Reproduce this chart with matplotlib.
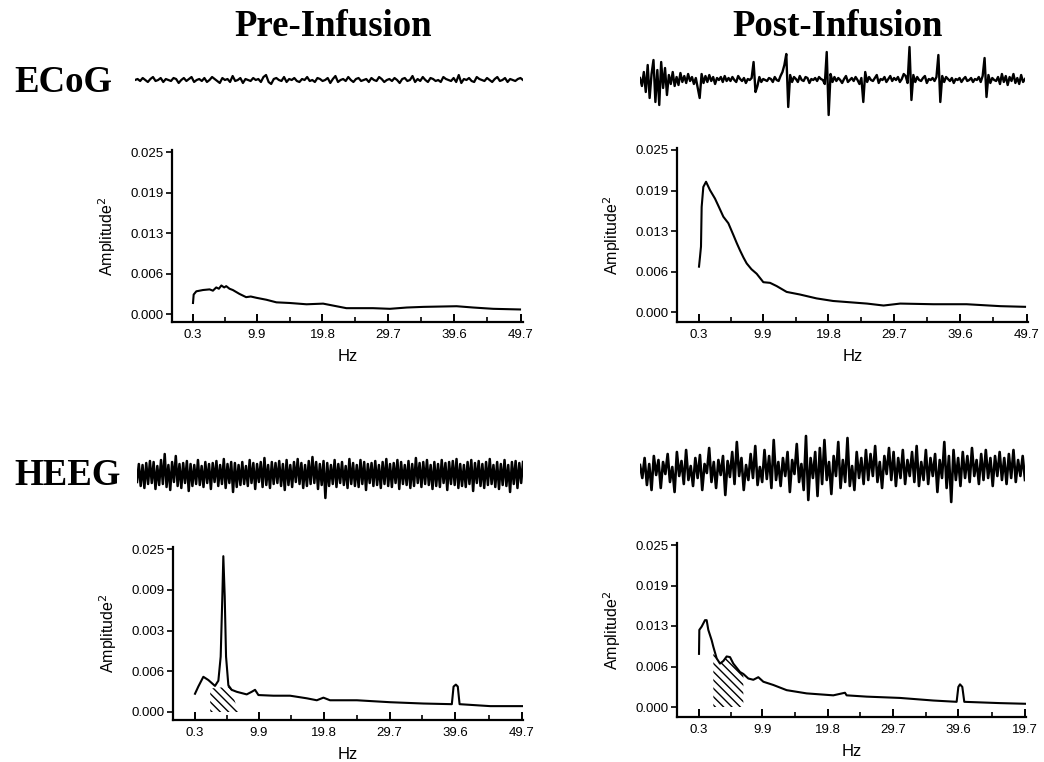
import matplotlib
matplotlib.use("Agg")
import matplotlib.pyplot as plt
import numpy as np

plt.rcParams['font.family'] = ['Liberation Sans', 'DejaVu Sans']
plt.rcParams['hatch.linewidth'] = 1.0

# ---- data ----
col_titles = ['Pre-Infusion', 'Post-Infusion']
row_titles = ['ECoG', 'HEEG']

yticks = [0.0, 0.00625, 0.0125, 0.01875, 0.025]
ytick_labels = ['0.000', '0.006', '0.013', '0.019', '0.025']
ytick_labels_heeg_pre = ['0.000', '0.006', '0.003', '0.009', '0.025']
xticks = [0.3, 9.9, 19.8, 29.7, 39.6, 49.7]
xtick_labels = ['0.3', '9.9', '19.8', '29.7', '39.6', '49.7']
xtick_labels_heeg_post = ['0.3', '9.9', '19.8', '29.7', '39.6', '19.7']

# spectra (Hz, amplitude^2)
ecog_pre_f = [0.3, 0.4, 0.8, 1.8, 2.8, 3.3, 3.8, 4.2, 4.57, 5.0, 5.3, 5.8, 6.3, 7.3, 8.3, 9.0, 9.85,
              11.35, 12.86, 14.87, 17.4, 19.9, 21.9, 23.4, 27.4, 29.95, 32.5, 35.0, 40.0, 42.5, 45.5, 49.55]
ecog_pre_a = [0.0017, 0.0030, 0.0035, 0.0037, 0.0038, 0.0036, 0.0041, 0.0039, 0.0044, 0.0041, 0.0043, 0.0039,
              0.0037, 0.0031, 0.0026, 0.0027, 0.0025, 0.0022, 0.0018, 0.0017, 0.0015, 0.0016, 0.0012, 0.0009,
              0.0009, 0.0008, 0.0010, 0.0011, 0.0012, 0.0010, 0.0008, 0.0007]

ecog_post_f = [0.3, 0.45, 0.6, 0.7, 0.95, 1.36, 1.96, 2.71, 3.3, 3.97, 4.72, 5.47, 6.0, 6.48, 7.0, 7.48, 8.2,
               8.99, 9.99, 11.0, 12.0, 13.5, 15.5, 18.0, 20.5, 25.6, 28.1, 30.6, 35.6, 40.6, 45.7, 49.4]
ecog_post_a = [0.0070, 0.0085, 0.0101, 0.0162, 0.0193, 0.0201, 0.0188, 0.0175, 0.0162, 0.0147, 0.0137, 0.0119,
               0.0106, 0.0095, 0.0084, 0.0075, 0.0066, 0.0059, 0.0046, 0.0045, 0.0040, 0.0031, 0.0027, 0.0021,
               0.0017, 0.0013, 0.0010, 0.0013, 0.0012, 0.0012, 0.0009, 0.0008]

heeg_pre_f = [0.3, 0.8, 1.56, 2.32, 3.32, 3.83, 4.18, 4.43, 4.58, 4.79, 4.99, 5.34, 5.84, 6.6, 8.11, 8.87,
              9.37, 9.88, 12.14, 14.66, 17.19, 18.7, 19.7, 20.7, 24.75, 29.79, 34.8, 39.1, 39.36, 39.71,
              40.0, 40.27, 44.9, 49.7]
heeg_pre_a = [0.0028, 0.0039, 0.0054, 0.0049, 0.0040, 0.0048, 0.0085, 0.0177, 0.0239, 0.0177, 0.0085, 0.0041,
              0.0034, 0.0031, 0.0027, 0.0031, 0.0034, 0.0026, 0.0025, 0.0025, 0.0021, 0.0018, 0.0022, 0.0018,
              0.0018, 0.0015, 0.0013, 0.0012, 0.0039, 0.0042, 0.0039, 0.0012, 0.0009, 0.0009]
heeg_pre_hatch_f = [2.6, 5.6, 6.85]
heeg_pre_hatch_top = [0.0036, 0.0039, 0.0]

heeg_post_f = [0.30, 0.35, 0.70, 1.21, 1.46, 1.71, 2.22, 2.47, 2.98, 3.48, 3.99, 4.49, 5.0, 5.5, 6.51, 7.02,
               7.77, 8.53, 9.29, 10.05, 11.56, 13.58, 16.61, 20.65, 22.42, 22.67, 25.7, 30.75, 35.8, 39.34,
               39.6, 39.85, 40.2, 40.5, 45.9, 49.7]
heeg_post_a = [0.0082, 0.0119, 0.0124, 0.0134, 0.0134, 0.0119, 0.0103, 0.0093, 0.0075, 0.0067, 0.0071, 0.0078,
               0.0077, 0.0067, 0.0054, 0.0051, 0.0044, 0.0042, 0.0046, 0.0039, 0.0034, 0.0026, 0.0021, 0.0018,
               0.0022, 0.0018, 0.0016, 0.0014, 0.0010, 0.0008, 0.0031, 0.0035, 0.0031, 0.0008, 0.0006, 0.0005]
heeg_post_hatch = (2.47, 7.02)

# raw traces (arbitrary units, roughly pixels of deflection)
ecog_pre_trace = [0, 1, -1, 2, 0, -2, 1, 3, -1, 0, 2, -2, 1, 0, -1, 2, 1, -3, 0, 2, -1, 1, 3, -2, 0, 1, -1, 2,
                  -2, 0, 3, 1, -1, -3, 2, 0, 1, -2, 4, -1, 0, 2, -3, 1, 0, -1, 2, 0, 1, -2, 3, 5, -2, -4, 1, 2,
                  0, -1, 3, -2, 1, 0, 2, -1, -2, 1, 0, 3, -1, 0, -2, 2, 1, -1, 0, 2, -3, 1, 4, -2, 0, 1, -1, 3,
                  0, -2, 1, 2, -1, 0, 1, -2, 2, 0, -1, 3, 1, -2, 0, 1, -1, 2, 0, -3, 1, 2, -1, 0, 4, -2, 1, -1,
                  3, 0, -2, 2, 1, -1, 0, -2, 3, 1, 0, -1, 2, -2, 5, -3, 1, 0, 2, -1, -2, 3, 1, 0, -1, 2, 0, -2,
                  1, 3, -1, 0, 2, -2, 1, 0, -1, 1, 2, 0]
ecog_post_trace = [2, -6, 8, -12, 15, -18, 6, 20, -22, 10, -25, 18, -8, 12, -15, 5,
                   -4, 8, -6, 3, -5, 7, -2, 4, -3, 6, -1, 3, -4, 2, -8,
                   -18, 6, -3, 4, -2, 5, -1, 3, -4, 2, 0, 3, -2, 4, -1,
                   2, -1, 3, 0, -2, 4, 1, -1, 2, -3, 1, 0, 2, 18, -12,
                   -6, 3, -2, 1, 0, -1, 2, 1, -2, 3, 0, -1, 4, 8, 15,
                   26, -27, 5, -2, 3,
                   1, -2, 4, 0, -1, 3, 2, -3, 1, 0, 2, -1, 3, 1, 0,
                   -4, 28, -35, 6, -2,
                   3, -1, 2, 0, -3, 1, 4, -2, 0, 2, -1, 3, 0, -4, 2,
                   -22, 8, -2, 3, 0, -1, 2, 5, -3, 1,
                   0, 3, -2, 1, 4, -1, 2, 0, 3, -2, 1, 6, 4, -3, 33,
                   -20, 5, -2, 3, 0, -1, 2, 4, -3, 1,
                   0, 2, -1, 3, 25, -22, 4, -2, 3, 1,
                   -1, 2, -3, 1, 0, 2, -2, 1, 3, -1, 0, 2, -2, 1, 0,
                   3, -2, 4, 22, -17, 5, -3, 2, 0, -1,
                   3, -4, 6, -2, 4, -5, 3, -1, 6, -3, 2, -4, 5, -2, 1]
heeg_pre_trace = [-8, 10, -12, 9, -14, 11, -10, 13, -9, 12, -15, 8, -11, 14, -10, 20, -13, 9, -16, 12, -8, 18,
                  -12, 10, -14, 11, -9, 13, -17, 10, -12, 9, -10, 14, -11, 8, -13, 12, -9, 10, -15, 11, -8, 13,
                  -12, 9, -10, 15, -14, 10, -9, 12, -18, 11, -13, 9, -11, 12, -10, 8, -12, 14, -9, 11, -15, 10,
                  -8, 12, -13, 16, -11, 9, -14, 12, -10, 11, -9, 13, -12, 10, -16, 14, -11, 9, -13, 12, -8, 15,
                  -10, 11, -14, 9, -12, 13, -10, 17, -9, 12, -15, 10, -11, 13, -24, 11, -12, 9, -10, 14, -13, 10,
                  -9, 12, -11, 8, -14, 15, -10, 11, -12, 9, -13, 14, -10, 12, -16, 10, -9, 11, -12, 13, -11, 9,
                  -14, 12, -10, 15, -12, 10, -13, 11, -9, 14, -15, 12, -10, 9, -11, 13, -14, 10, -12, 16, -9, 11,
                  -13, 12, -10, 14, -11, 9, -15, 12, -12, 10, -13, 14, -9, 11, -16, 12, -10, 13, -11, 15, -14, 10,
                  -12, 9, -13, 12, -10, 14, -17, 11, -9, 13, -12, 10, -14, 12, -11, 15, -10, 9, -13, 12, -15, 10,
                  -11, 14, -12, 9, -18, 12, -10, 13, -14, 11, -9, 12]
heeg_post_trace = [5, -8, 12, -15, 6, -20, 14, -5, 10, -18, 8, -4, 16, -12, 3, -22, 18, -6, 9, -14, 20, -10, 4,
                   -16, 12, -8, 15, -20, 6, -3, 22, -12, 8, -18, 10, -5, 14, -25, 9, -7, 18, -14, 28, -6, 12, -20,
                   5, -10, 16, -8, 24, -15, 3, -12, 20, -9, 14, -18, 30, -10,
                   8, -16, 12, -6, 18, -22, 10, -4, 26, -12, 6, -20, 34, -30, 12, -8, 18, -26, 22, -14, 30, -10,
                   8, -24, 14, -6, 28, -18, 10, -12, 32, -16, 4, -20, 18, -8, 12, -14, 20, -10, 16, -6, 24, -12,
                   8, -18, 14, -4, 22, -10, 18, -16, 12, -8, 20, -14, 10, -6, 18, -12,
                   24, -16, 8, -10, 20, -14, 12, -6, 16, -22, 10, -8, 28, -18, 14, -32, 20, -10, 12, -16, 18, -8,
                   14, -12, 22, -6, 10, -14, 16, -10, 20, -8, 12, -16, 14, -6, 18, -10, 12, -14, 16, -8, 20, -12,
                   10, -6, 14, -10]

W, H = 1044, 762
fig = plt.figure(figsize=(W / 100, H / 100), dpi=100)


def px_axes(x0, y0, x1, y1):
    # pixel box (top-left origin) -> figure axes
    return fig.add_axes([x0 / W, 1 - y1 / H, (x1 - x0) / W, (y1 - y0) / H])


def trace(x0, x1, yc, half, vals, lw):
    ax = px_axes(x0, yc - half, x1, yc + half)
    ax.plot(np.linspace(0, 1, len(vals)), vals, color='black', lw=lw)
    ax.set_xlim(0, 1)
    ax.set_ylim(-half, half)
    ax.axis('off')


def spectrum(spine_x, x03, x497, right_x, y0, y25, xaxis_y, top_y, f, a, ylabels, xlabels):
    ax = px_axes(spine_x, top_y, right_x, xaxis_y)
    hz_per_px = 49.4 / (x497 - x03)
    val_per_px = 0.025 / (y0 - y25)
    ax.set_xlim(0.3 - (x03 - spine_x) * hz_per_px, 49.7 + (right_x - x497) * hz_per_px)
    ax.set_ylim(-(xaxis_y - y0) * val_per_px, 0.025 + (y25 - top_y) * val_per_px)
    ax.plot(f, a, color='black', lw=1.5)
    for s in ['top', 'right']:
        ax.spines[s].set_visible(False)
    for s in ['left', 'bottom']:
        ax.spines[s].set_linewidth(1.6)
    ax.set_yticks(yticks)
    ax.set_yticklabels(ylabels)
    ax.set_xticks(xticks)
    ax.set_xticklabels(xlabels)
    ax.set_xticks([5.1, 14.85, 24.75, 34.65, 44.65], minor=True)
    ax.tick_params(axis='y', direction='out', length=4, width=1.2, pad=2, labelsize=9.5)
    ax.tick_params(axis='x', which='major', direction='in', length=6, width=1.4, pad=5, labelsize=9.5)
    ax.tick_params(axis='x', which='minor', direction='in', length=3.5, width=1.2)
    ax.set_xlabel('Hz', fontsize=12, labelpad=6)
    ax.set_ylabel('Amplitude$^2$', fontsize=11.5, labelpad=9)
    return ax


serif = dict(family='Liberation Serif', fontweight='bold', fontsize=26.5)
fig.text(333 / W, 1 - 27 / H, col_titles[0], ha='center', va='center', **serif)
fig.text(838 / W, 1 - 27 / H, col_titles[1], ha='center', va='center', **serif)
fig.text(14 / W, 1 - 82 / H, row_titles[0], ha='left', va='center', **serif)
fig.text(14 / W, 1 - 475 / H, row_titles[1], ha='left', va='center', **serif)

trace(135, 523, 80, 35, ecog_pre_trace, 1.6)
trace(640, 1025, 80, 40, ecog_post_trace, 1.7)
trace(137, 523, 474, 40, heeg_pre_trace, 1.8)
trace(640, 1025, 470, 48, heeg_post_trace, 1.9)

spectrum(172, 193, 521, 523, 314, 152, 322, 150, ecog_pre_f, ecog_pre_a, ytick_labels, xtick_labels)
spectrum(677, 699, 1027, 1028, 312, 150, 322, 148, ecog_post_f, ecog_post_a, ytick_labels, xtick_labels)

ax = spectrum(173, 195, 522, 523, 712, 549, 720, 547, heeg_pre_f, heeg_pre_a, ytick_labels_heeg_pre,
              xtick_labels)
ax.fill_between(heeg_pre_hatch_f, 0, heeg_pre_hatch_top, facecolor='none', edgecolor='black',
                hatch='\\\\\\\\', linewidth=0)

ax = spectrum(677, 699, 1025, 1026, 707, 545, 717, 543, heeg_post_f, heeg_post_a, ytick_labels,
              xtick_labels_heeg_post)
f_arr = np.array(heeg_post_f)
mask = (f_arr >= heeg_post_hatch[0]) & (f_arr <= heeg_post_hatch[1])
ax.fill_between(f_arr[mask], 0, np.array(heeg_post_a)[mask], facecolor='none', edgecolor='black',
                hatch='\\\\\\\\', linewidth=0)

fig.savefig('out.png', dpi=100)
